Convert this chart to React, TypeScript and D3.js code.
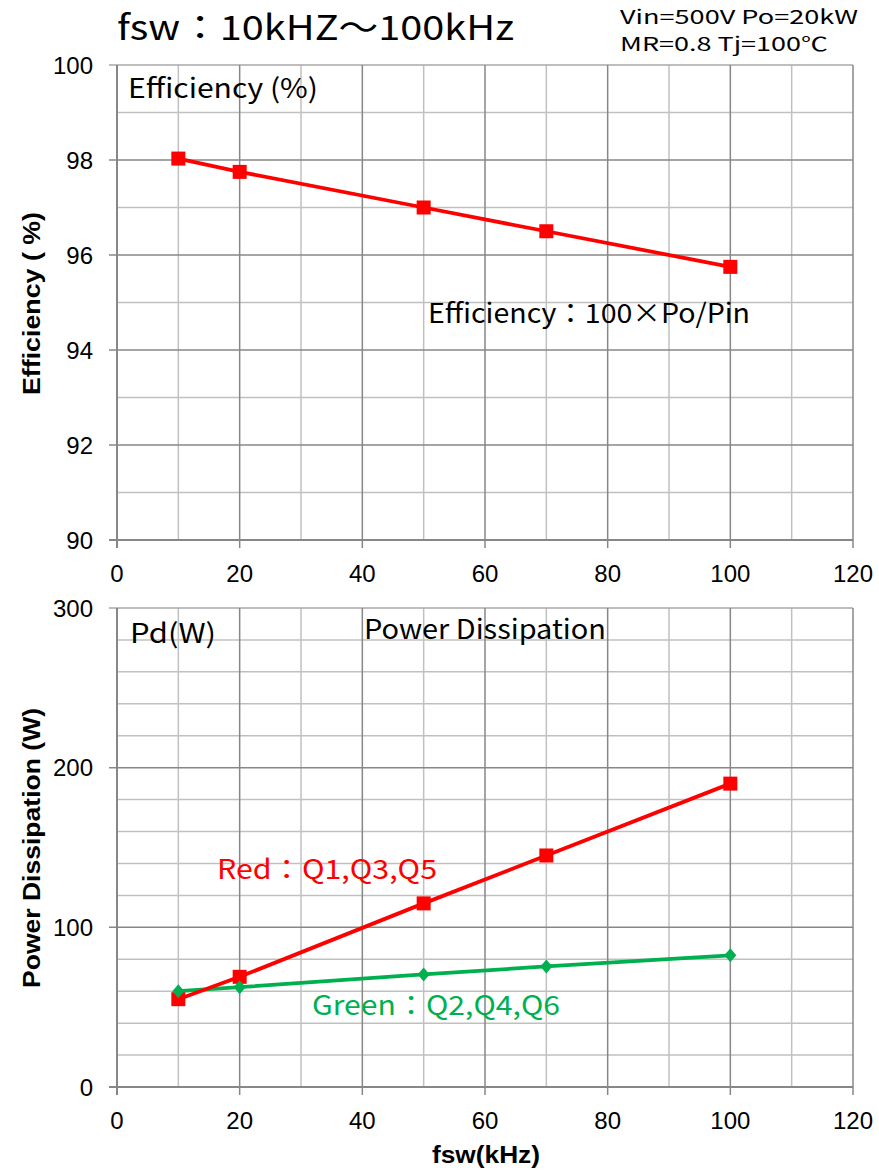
import React from "react";
import * as d3 from "d3";

const fsw = [10, 20, 50, 70, 100];
const efficiency = [98.03, 97.75, 97.0, 96.5, 95.75];
const pdRed = [55, 69, 115, 145, 190];
const pdGreen = [60, 62.5, 70.5, 75.5, 82.5];
const xTicks = [0, 20, 40, 60, 80, 100, 120];
const effTicks = [90, 92, 94, 96, 98, 100];
const pdTicks = [0, 100, 200, 300];

const W = 879, H = 1172;
const left = 117, right = 853;
const RED = "#ff0000", GREEN = "#00b050";
const MAJOR = "#878787", MINOR = "#c0c0c0";
const FONT_T = "'Noto Sans CJK JP', 'DejaVu Sans', sans-serif";
const FONT_A = "'Liberation Sans', Arial, sans-serif";

function Panel({ top, bottom, domain, ticks, minorStep, majorStep, xStep }: any) {
  const x = d3.scaleLinear().domain([0, 120]).range([left, right]);
  const y = d3.scaleLinear().domain(domain).range([bottom, top]);
  const minorX = d3.range(0, 120 + 0.001, xStep);
  const minorY = d3.range(domain[0], domain[1] + 0.001, minorStep);
  const isMajorY = (v: number) => Math.abs((v - domain[0]) / majorStep - Math.round((v - domain[0]) / majorStep)) < 1e-6;
  return (
    <g>
      {minorY.filter((v) => !isMajorY(v)).map((v) => (
        <line key={"my" + v} x1={left} x2={right} y1={y(v)} y2={y(v)} stroke={MINOR} strokeWidth={1.5} />
      ))}
      {minorX.filter((v) => v % 20 !== 0).map((v) => (
        <line key={"mx" + v} x1={x(v)} x2={x(v)} y1={top} y2={bottom} stroke={MINOR} strokeWidth={1.5} />
      ))}
      {minorY.filter((v) => isMajorY(v) && v !== domain[0]).map((v) => (
        <line key={"My" + v} x1={left - 8} x2={right} y1={y(v)} y2={y(v)} stroke={v === domain[1] ? "#a8a8a8" : MAJOR} strokeWidth={1.5} />
      ))}
      {xTicks.filter((v) => v !== 0).map((v) => (
        <line key={"Mx" + v} x1={x(v)} x2={x(v)} y1={top} y2={bottom + 8} stroke={MAJOR} strokeWidth={1.5} />
      ))}
      <line x1={left} x2={left} y1={top} y2={bottom + 8} stroke={MAJOR} strokeWidth={2} />
      <line x1={left - 8} x2={right} y1={bottom} y2={bottom} stroke={MAJOR} strokeWidth={2} />
      {ticks.map((v: number) => (
        <text key={"yt" + v} x={left - 24} y={y(v)} dy="0.36em" textAnchor="end" fontFamily={FONT_A} fontSize={24} fill="#000">{v}</text>
      ))}
      {xTicks.map((v) => (
        <text key={"xt" + v} x={x(v)} y={bottom + 42} textAnchor="middle" fontFamily={FONT_A} fontSize={24} fill="#000">{v}</text>
      ))}
    </g>
  );
}

function T({ x, y, w, size, fill = "#000", children, family = FONT_T, weight }: any) {
  return (
    <text x={x} y={y} fontFamily={family} fontSize={size} fontWeight={weight} fill={fill} textLength={w} lengthAdjust="spacingAndGlyphs">{children}</text>
  );
}

export default function App() {
  const x = d3.scaleLinear().domain([0, 120]).range([left, right]);
  const yE = d3.scaleLinear().domain([90, 100]).range([540, 65]);
  const yP = d3.scaleLinear().domain([0, 300]).range([1087, 608]);
  const effLine = d3.line<number>().x((_, i) => x(fsw[i])).y((d) => yE(d));
  const redLine = d3.line<number>().x((_, i) => x(fsw[i])).y((d) => yP(d));
  const greenLine = d3.line<number>().x((_, i) => x(fsw[i])).y((d) => yP(d));
  const sq = 14;
  const dia = "M0,-7L6,0L0,7L-6,0Z";
  return (
    <svg width={W} height={H} style={{ position: "absolute", left: 0, top: 0, background: "#fff" }}>
      <rect width={W} height={H} fill="#fff" />
      <T x={117} y={40} w={397} size={34}>fsw：10kHZ～100kHz</T>
      <T x={620} y={24} w={238} size={19}>Vin=500V Po=20kW</T>
      <T x={620} y={51} w={208} size={19}>MR=0.8 Tj=100℃</T>

      <Panel top={65} bottom={540} domain={[90, 100]} ticks={effTicks} minorStep={1} majorStep={2} xStep={10} />
      <Panel top={608} bottom={1087} domain={[0, 300]} ticks={pdTicks} minorStep={20} majorStep={100} xStep={10} />

      <T x={128} y={98} w={190} size={27}>Efficiency (%)</T>
      <T x={428} y={323} w={322} size={27}>Efficiency：100×Po/Pin</T>
      <T x={130} y={643} w={86} size={27}>Pd(W)</T>
      <T x={364} y={639} w={242} size={27}>Power Dissipation</T>
      <T x={217} y={879} w={220} size={27} fill={RED}>Red：Q1,Q3,Q5</T>
      <T x={312} y={1015} w={248} size={27} fill={GREEN}>Green：Q2,Q4,Q6</T>

      <path d={effLine(efficiency) || ""} fill="none" stroke={RED} strokeWidth={3.8} />
      {efficiency.map((v, i) => (
        <rect key={"e" + i} x={x(fsw[i]) - sq / 2} y={yE(v) - sq / 2} width={sq} height={sq} fill={RED} />
      ))}
      <path d={greenLine(pdGreen) || ""} fill="none" stroke={GREEN} strokeWidth={3.8} />
      <path d={redLine(pdRed) || ""} fill="none" stroke={RED} strokeWidth={3.8} />
      {pdRed.map((v, i) => (
        <rect key={"r" + i} x={x(fsw[i]) - sq / 2} y={yP(v) - sq / 2} width={sq} height={sq} fill={RED} />
      ))}
      {pdGreen.map((v, i) => (
        <path key={"g" + i} d={dia} transform={`translate(${x(fsw[i])},${yP(v)})`} fill={GREEN} />
      ))}

      <text transform="translate(40,303.5) rotate(-90)" textAnchor="middle" fontFamily={FONT_A} fontWeight="bold" fontSize={23} fill="#000" textLength={183} lengthAdjust="spacingAndGlyphs">Efficiency ( %)</text>
      <text transform="translate(40,848) rotate(-90)" textAnchor="middle" fontFamily={FONT_A} fontWeight="bold" fontSize={23} fill="#000" textLength={280} lengthAdjust="spacingAndGlyphs">Power Dissipation (W)</text>
      <text x={486} y={1163} textAnchor="middle" fontFamily={FONT_A} fontWeight="bold" fontSize={23} fill="#000" textLength={108} lengthAdjust="spacingAndGlyphs">fsw(kHz)</text>
    </svg>
  );
}
